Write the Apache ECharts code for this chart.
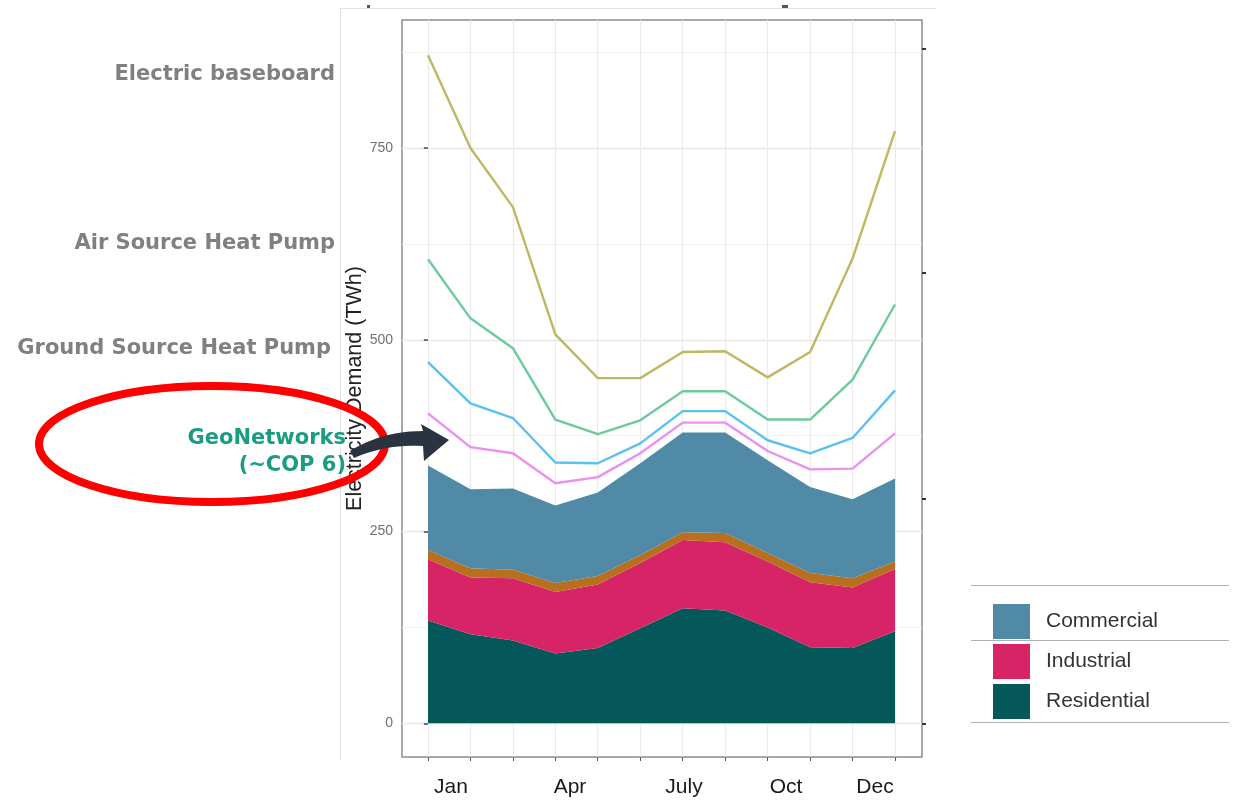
<!DOCTYPE html>
<html><head><meta charset="utf-8">
<script src="https://cdn.jsdelivr.net/npm/echarts@6/dist/echarts.min.js"></script>
<style>html,body{margin:0;padding:0;background:#fff}#c{width:1234px;height:801px}</style>
</head><body><div id="c"></div>
<script>
// ---- data ----
const months = ['Jan','Feb','Mar','Apr','May','Jun','Jul','Aug','Sep','Oct','Nov','Dec'];
const residential = [134,116,108,91,98,124,150,147,125,99,98,120];
const industrial  = [80,74,81,80,83,85,89,89,86,85,79,81];
const otherBand   = [12,12,11,12,11,10,10,12,11,12,12,10];
const commercial  = [110,103,106,101,109,120,130,131,121,112,103,108];
const electricBaseboard = [871,750,673,507,450,450,484,485,451,484,606,772];
const airSourceHP       = [605,528,489,396,377,395,433,433,396,396,448,546];
const groundSourceHP    = [471,417,398,340,339,365,407,407,369,352,372,434];
const geoNetworks       = [404,360,352,313,321,352,392,392,355,331,332,378];
const yTicks = [0,250,500,750];
const yMinorTicks = [125,375,625,875];
const rightTicks = [0,293,587,880];
const xTickLabels = ['Jan','Apr','July','Oct','Dec'];
const leftLabels = ['Electric baseboard','Air Source Heat Pump','Ground Source Heat Pump'];
const geoLabel = ['GeoNetworks','(~COP 6)'];

// ---- layout / style (not data) ----
const xLabelPos = [451,570,684,786,875];
const leftLabelPos = [[335,75],[335,244],[331,349]];
const monthIdx = months.map((m,i)=>i);
const labelFont = 'bold 21px "DejaVu Sans", sans-serif';
const Y_MIN = -44, Y_MAX = 917;

function quad(p0, c, p1, n){
  const pts = [];
  for (let k=0;k<=n;k++){ const t=k/n, u=1-t;
    pts.push([u*u*p0[0]+2*u*t*c[0]+t*t*p1[0], u*u*p0[1]+2*u*t*c[1]+t*t*p1[1]]); }
  return pts;
}
const arrowPts = [].concat(
  quad([350,451],[382,431],[423,431],12),
  [[421,424],[449,440],[424,461]],
  quad([423,446],[386,444],[354,458],12)
);

const chart = echarts.init(document.getElementById('c'));
const areaSeries = (name, data, color) => ({
  name, type:'line', stack:'total', data, symbol:'none', xAxisIndex:1, yAxisIndex:3,
  lineStyle:{width:0}, areaStyle:{color, opacity:1}, itemStyle:{color}, z:2
});
const lineSeries = (name, data, color) => ({
  name, type:'line', data, symbol:'none', xAxisIndex:1, yAxisIndex:3,
  lineStyle:{width:2.4, color}, itemStyle:{color}, z:3
});

const graphics = [];
graphics.push({type:'line', shape:{x1:340.5,y1:8,x2:340.5,y2:760}, style:{stroke:'#e3e3e3', lineWidth:1}});
graphics.push({type:'line', shape:{x1:340,y1:8.5,x2:936,y2:8.5}, style:{stroke:'#e3e3e3', lineWidth:1}});
graphics.push({type:'rect', shape:{x:367,y:5,width:3,height:3}, style:{fill:'#555'}});
graphics.push({type:'rect', shape:{x:782,y:5,width:6,height:3}, style:{fill:'#555'}});
xTickLabels.forEach((t,i)=>graphics.push({type:'text', x:xLabelPos[i], y:787,
  style:{text:t, fill:'#1a1a1a', font:'21px "Liberation Sans", Arial, sans-serif', textAlign:'center', textVerticalAlign:'middle'}}));
leftLabels.forEach((t,i)=>graphics.push({type:'text', x:leftLabelPos[i][0], y:leftLabelPos[i][1],
  style:{text:t, fill:'#808080', font:labelFont, textAlign:'right', textVerticalAlign:'middle'}}));
geoLabel.forEach((t,i)=>graphics.push({type:'text', x:346, y:439+i*27,
  style:{text:t, fill:'#1a9c82', font:labelFont, textAlign:'right', textVerticalAlign:'middle'}}));
graphics.push({type:'ellipse', shape:{cx:212, cy:444, rx:173, ry:58}, style:{fill:'none', stroke:'#ff0000', lineWidth:8}, z:50});
graphics.push({type:'polygon', shape:{points:arrowPts}, style:{fill:'#2a3440'}, z:60});
[585,640,722].forEach(y=>graphics.push({type:'line', shape:{x1:971,y1:y+0.5,x2:1229,y2:y+0.5}, style:{stroke:'#b0b0b0', lineWidth:1}}));

chart.setOption({
  animation:false,
  backgroundColor:'#fff',
  grid:[
    {left:402, top:20, width:520, height:737, show:true, borderColor:'#8c8c8c', borderWidth:1.5, backgroundColor:'#fff'},
    {left:428, top:20, width:467, height:737}
  ],
  xAxis:[{
    type:'value', gridIndex:0, min:-0.61, max:11.64,
    axisLine:{show:false, onZero:false},
    axisTick:{show:true, length:4, lineStyle:{color:'#555', width:1}, customValues:monthIdx},
    axisLabel:{show:false},
    splitLine:{show:true, lineStyle:{color:'#ebebeb', width:1.2}}
  },{
    type:'category', gridIndex:1, data:months, boundaryGap:false,
    axisLine:{show:false, onZero:false}, axisTick:{show:false}, axisLabel:{show:false}, splitLine:{show:false}
  }],
  yAxis:[{
    type:'value', gridIndex:0, min:Y_MIN, max:Y_MAX,
    name:'Electricity Demand (TWh)', nameLocation:'middle', nameRotate:90, nameGap:33,
    nameTextStyle:{fontSize:21.5, color:'#222', fontFamily:'"Liberation Sans", Arial, sans-serif'},
    axisLine:{show:false},
    axisTick:{show:true, length:4, lineStyle:{color:'#444', width:1.5}, customValues:yTicks},
    axisLabel:{show:true, margin:9, fontSize:14, color:'#707070', fontFamily:'"Liberation Sans Narrow", "Liberation Sans", Arial, sans-serif', customValues:yTicks},
    splitLine:{show:true, lineStyle:{color:'#e8e8e8', width:1.4}}
  },{
    type:'value', gridIndex:0, min:Y_MIN, max:Y_MAX, position:'left',
    axisLine:{show:false}, axisLabel:{show:false},
    axisTick:{show:false, customValues:yMinorTicks},
    splitLine:{show:true, lineStyle:{color:'#f3f3f3', width:1}}
  },{
    type:'value', gridIndex:0, min:Y_MIN, max:Y_MAX, position:'right',
    axisLine:{show:false}, axisLabel:{show:false},
    axisTick:{show:true, length:4, lineStyle:{color:'#333', width:2}, customValues:rightTicks},
    splitLine:{show:false}
  },{
    type:'value', gridIndex:1, min:Y_MIN, max:Y_MAX,
    axisLine:{show:false}, axisLabel:{show:false}, axisTick:{show:false}, splitLine:{show:false}
  }],
  legend:{
    data:['Commercial','Industrial','Residential'], orient:'vertical', left:993, top:604, padding:0,
    icon:'rect', itemWidth:37, itemHeight:35, itemGap:5,
    textStyle:{fontSize:21, color:'#333', fontFamily:'"Liberation Sans", Arial, sans-serif', padding:[3,0,0,11]},
    selectedMode:false
  },
  series:[
    areaSeries('Residential', residential, '#04585a'),
    areaSeries('Industrial', industrial, '#d62466'),
    areaSeries('Other', otherBand, '#b86f1e'),
    areaSeries('Commercial', commercial, '#508aa6'),
    lineSeries('GeoNetworks', geoNetworks, '#eb90f0'),
    lineSeries('Ground Source Heat Pump', groundSourceHP, '#5bc0f0'),
    lineSeries('Air Source Heat Pump', airSourceHP, '#6ccb9c'),
    lineSeries('Electric baseboard', electricBaseboard, '#bfb862')
  ],
  graphic:graphics
});
</script></body></html>
